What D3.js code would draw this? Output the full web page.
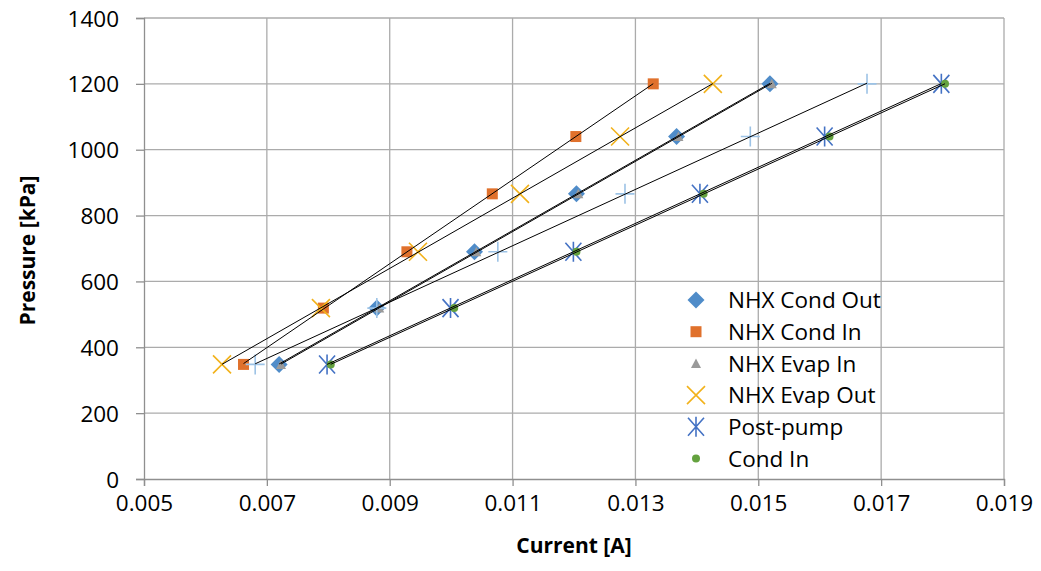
<!DOCTYPE html>
<meta charset="utf-8">
<style>
body {
  margin: 0;
  background-color: #ffffff;
}
.tick text {
  font: 22.5px "Open Sans", sans-serif;
  fill: #000;
}
.axis-title {
  font: bold 21px "Open Sans", sans-serif;
  fill: #000;
}
.legend text {
  font: 22.5px "Open Sans", sans-serif;
  fill: #000;
}
</style>
<body>
<script src="https://d3js.org/d3.v7.min.js"></script>
<script>
  // pressure levels [kPa] (same for every sensor)
  var pressure = [348, 519, 690, 866, 1040, 1200];

  // current readings [A] per sensor
  var nhxCondOut = [0.00720, 0.00879, 0.01038, 0.01204, 0.01367, 0.01519];
  var nhxCondIn  = [0.00662, 0.00792, 0.00928, 0.01067, 0.01203, 0.01329];
  var nhxEvapIn  = [0.00723, 0.00883, 0.01041, 0.01207, 0.01370, 0.01522];
  var nhxEvapOut = [0.00627, 0.00788, 0.00946, 0.01112, 0.01275, 0.01426];
  var postPump   = [0.00798, 0.00999, 0.01199, 0.01405, 0.01608, 0.01798];
  var condIn     = [0.00804, 0.01005, 0.01204, 0.01411, 0.01616, 0.01804];
  // 7th series, no legend entry shown
  var extraSeries = [0.00681, 0.00879, 0.01076, 0.01283, 0.01487, 0.01677];

  var xTicks = [0.005, 0.007, 0.009, 0.011, 0.013, 0.015, 0.017, 0.019];
  var yTicks = [0, 200, 400, 600, 800, 1000, 1200, 1400];

  var seriesNames = ["NHX Cond Out", "NHX Cond In", "NHX Evap In", "NHX Evap Out", "Post-pump", "Cond In"];

  var series = [
    {name: "NHX Cond Out", values: nhxCondOut, marker: "diamond", color: "#4F8CC9"},
    {name: "NHX Cond In",  values: nhxCondIn,  marker: "square",  color: "#E0712C"},
    {name: "NHX Evap In",  values: nhxEvapIn,  marker: "triangle", color: "#9A9A9A"},
    {name: "NHX Evap Out", values: nhxEvapOut, marker: "x",       color: "#F2B21B"},
    {name: "Post-pump",    values: postPump,   marker: "star",    color: "#4472C4"},
    {name: "Cond In",      values: condIn,     marker: "circle",  color: "#64A23F"},
    {name: "",             values: extraSeries, marker: "plus",   color: "#9DC3E6"}
  ];

  var chartConfig = {
    width: 1041,
    height: 571,
    margin: {top: 18, right: 37, bottom: 92, left: 144}
  };

  var margin = chartConfig.margin,
      width = chartConfig.width - margin.left - margin.right,
      height = chartConfig.height - margin.top - margin.bottom;

  var x = d3.scaleLinear().domain([0.005, 0.019]).range([0, width]);
  var y = d3.scaleLinear().domain([0, 1400]).range([height, 0]);

  var svg = d3.select("body").append("svg")
      .attr("width", chartConfig.width)
      .attr("height", chartConfig.height)
    .append("g")
      .attr("transform", "translate(" + margin.left + "," + margin.top + ")");

  // gridlines
  svg.append("g")
    .selectAll("line.hgrid")
    .data(yTicks.slice(1))
    .enter().append("line")
      .attr("x1", 0).attr("x2", width)
      .attr("y1", function(d) { return y(d); })
      .attr("y2", function(d) { return y(d); })
      .attr("stroke", "#ABABAB")
      .attr("stroke-width", 1.3);
  svg.append("g")
    .selectAll("line.vgrid")
    .data(xTicks.slice(1))
    .enter().append("line")
      .attr("y1", 0).attr("y2", height)
      .attr("x1", function(d) { return x(d); })
      .attr("x2", function(d) { return x(d); })
      .attr("stroke", "#ABABAB")
      .attr("stroke-width", 1.3);

  // axes
  var xAxis = svg.append("g")
      .attr("transform", "translate(0," + height + ")")
      .call(d3.axisBottom(x).tickValues(xTicks).tickFormat(d3.format(".3f")).tickSize(7).tickPadding(9));
  var yAxis = svg.append("g")
      .call(d3.axisLeft(y).tickValues(yTicks).tickFormat(d3.format("d")).tickSize(8).tickPadding(17));
  [xAxis, yAxis].forEach(function(a) {
    a.select(".domain").attr("stroke", "#8F8F8F").attr("stroke-width", 1.3);
    a.selectAll(".tick line").attr("stroke", "#8F8F8F").attr("stroke-width", 1.3);
  });
  xAxis.selectAll(".tick text").attr("dy", "0.72em");
  yAxis.selectAll(".tick text").attr("dy", "0.36em");

  // axis titles
  svg.append("text")
      .attr("class", "axis-title")
      .attr("x", width / 2)
      .attr("y", height + 74)
      .attr("text-anchor", "middle")
      .text("Current [A]");
  svg.append("text")
      .attr("class", "axis-title")
      .attr("transform", "translate(" + (35 - margin.left) + "," + (height / 2 + 2) + ") rotate(-90)")
      .attr("text-anchor", "middle")
      .text("Pressure [kPa]");

  // marker drawing
  function drawMarker(g, type, color) {
    if (type === "diamond") {
      g.append("path").attr("d", "M0,-8.5L8.5,0L0,8.5L-8.5,0Z").attr("fill", color);
    } else if (type === "square") {
      g.append("rect").attr("x", -5.5).attr("y", -5.5).attr("width", 11).attr("height", 11).attr("fill", color);
    } else if (type === "triangle") {
      g.append("path").attr("d", "M0,-5L5,4.5L-5,4.5Z").attr("fill", color);
    } else if (type === "circle") {
      g.append("circle").attr("r", 4).attr("fill", color);
    } else if (type === "x") {
      g.append("path").attr("d", "M-9,-9L9,9M-9,9L9,-9")
        .attr("stroke", color).attr("stroke-width", 1.6).attr("fill", "none");
    } else if (type === "star") {
      g.append("path").attr("d", "M-8,-9L8,9M-8,9L8,-9M0,-10L0,10")
        .attr("stroke", color).attr("stroke-width", 1.6).attr("fill", "none");
    } else if (type === "plus") {
      g.append("path").attr("d", "M-9.5,0L9.5,0M0,-10L0,10")
        .attr("stroke", color).attr("stroke-width", 1.6).attr("fill", "none");
    }
  }

  // markers
  series.forEach(function(s) {
    var pts = s.values.map(function(v, i) { return {x: v, y: pressure[i]}; });
    svg.append("g").selectAll("g")
      .data(pts)
      .enter().append("g")
        .attr("transform", function(d) { return "translate(" + x(d.x) + "," + y(d.y) + ")"; })
        .each(function() { drawMarker(d3.select(this), s.marker, s.color); });
  });

  // linear trendlines (least squares, y on x)
  series.forEach(function(s) {
    var n = s.values.length;
    var mx = d3.mean(s.values), my = d3.mean(pressure);
    var sxy = 0, sxx = 0;
    for (var i = 0; i < n; i++) {
      sxy += (s.values[i] - mx) * (pressure[i] - my);
      sxx += (s.values[i] - mx) * (s.values[i] - mx);
    }
    var b = sxy / sxx, a = my - b * mx;
    var x0 = d3.min(s.values), x1 = d3.max(s.values);
    svg.append("line")
      .attr("x1", x(x0)).attr("y1", y(a + b * x0))
      .attr("x2", x(x1)).attr("y2", y(a + b * x1))
      .attr("stroke", "#000")
      .attr("stroke-width", 1);
  });

  // legend
  var legend = svg.append("g")
      .attr("class", "legend")
      .attr("transform", "translate(" + (696 - margin.left) + "," + (300 - margin.top) + ")");
  series.filter(function(s) { return seriesNames.indexOf(s.name) >= 0; }).forEach(function(s, i) {
    var row = legend.append("g").attr("transform", "translate(0," + (i * 31.7) + ")");
    drawMarker(row.append("g"), s.marker, s.color);
    row.append("text")
      .attr("x", 32)
      .attr("dy", "0.36em")
      .text(s.name);
  });
</script>
</body>
